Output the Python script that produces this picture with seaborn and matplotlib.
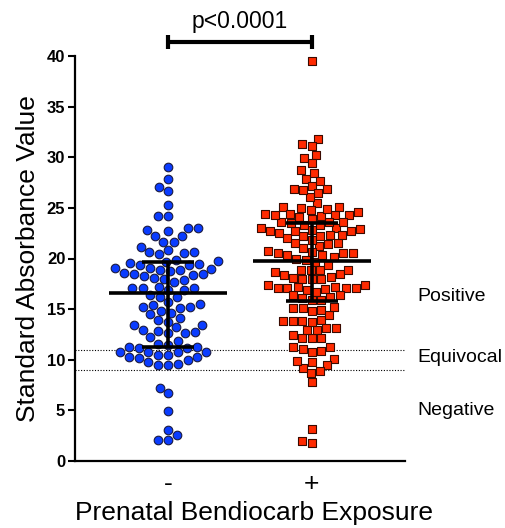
import matplotlib
matplotlib.use("Agg")
import matplotlib.pyplot as plt
import numpy as np
import pandas as pd
import seaborn as sns

categories = ["-", "+"]
neg_values = [19.75, 11.3,
              19.7, 19.1, 18.5, 17.1, 15.7, 15.1, 13.4, 11.2, 10.5, 10.0,
              23.0, 20.6, 18.9, 18.3, 17.7, 16.9, 14.8, 14.1, 12.7, 10.5, 9.5,
              24.2, 22.7, 21.6, 20.6, 19.4, 18.6, 17.9, 16.9, 16.2, 15.2, 13.9, 13.2, 12.6, 10.8, 9.5,
              29.0, 27.85, 27.1, 26.7, 25.3, 6.7, 7.2, 4.9, 3.1, 2.6, 2.1, 2.1,
              24.2, 22.8, 22.2, 21.6, 20.5, 19.5, 18.9, 18.1, 17.2, 16.4, 15.5, 14.6, 13.4, 12.6, 11.9, 11.2, 10.8, 10.3, 9.6,
              23.0, 22.2, 21.1, 20.4, 19.6, 19.1, 18.5, 18.0, 17.1, 16.2, 15.4, 14.5, 13.7, 12.8, 12.2, 11.5, 10.8, 10.3, 9.8,
              20.8, 19.4, 19.0, 18.4, 17.1, 15.2, 12.9, 11.6, 10.8, 10.2,
              19.9, 18.8, 11.3]
pos_values = [39.5, 31.8, 31.3, 31.1, 30.2, 29.9, 29.4, 28.7,
              27.9, 27.2, 26.5, 25.5, 24.2, 22.9, 21.2, 20.5, 19.7, 18.9, 18.0, 17.4, 16.9, 14.9, 13.9, 13.1, 12.1, 10.8, 10.1, 9.5, 8.7,
              26.9, 26.1, 25.1, 24.1, 23.0, 21.5, 20.7, 20.0, 18.4, 17.1, 15.1, 14.4, 13.8, 12.9, 12.1, 10.9, 9.8, 9.2, 7.8, 3.2,
              1.75, 2.0,
              28.4, 27.7, 26.8, 25.1, 24.4, 22.7, 21.8, 21.0, 20.3, 18.7, 18.0, 17.1, 16.4, 14.8, 13.8, 12.9, 12.1, 11.1, 9.9, 8.9,
              26.9, 24.9, 24.3, 23.3, 22.3, 21.4, 20.3, 18.9, 18.2, 17.4, 16.7, 15.1, 13.7, 11.3,
              24.4, 23.6, 22.7, 22.2, 20.6, 20.1, 18.9, 18.0, 17.2, 15.9,
              24.3, 23.6, 22.8, 22.2, 17.1, 16.2,
              25.0, 24.3, 23.6, 23.0, 22.3, 21.5, 20.5, 19.9, 19.4, 18.5, 17.0, 15.2, 13.8, 13.1, 12.4, 11.3,
              24.6, 23.9, 23.3, 22.7, 22.0, 20.5, 18.9, 18.1, 17.1, 16.4, 15.9,
              24.8, 23.5, 22.5, 17.2, 16.1]
medians = [16.55, 19.75]
q1 = [11.3, 15.8]
q3 = [19.7, 23.5]
cutoffs = [11.0, 9.0]
zone_labels = ["Positive", "Equivocal", "Negative"]
zone_y = [16.2, 10.2, 5.0]
p_text = "p<0.0001"
yticks = [0, 5, 10, 15, 20, 25, 30, 35, 40]

sns.set_style("ticks", {"axes.edgecolor": "black", "text.color": "black",
                        "xtick.color": "black", "ytick.color": "black",
                        "axes.labelcolor": "black"})
plt.rcParams["font.family"] = ["Liberation Sans", "DejaVu Sans"]

fig = plt.figure(figsize=(5.06, 5.28), dpi=100)
ax = fig.add_axes([75 / 506, 67 / 528, 330 / 506, 405 / 528])

df_neg = pd.DataFrame({"group": categories[0], "value": neg_values})
df_pos = pd.DataFrame({"group": categories[1], "value": pos_values})

sns.swarmplot(data=df_neg, x="group", y="value", order=categories, ax=ax,
              color="#0a3cff", marker="o", size=6.2, linewidth=0.8,
              edgecolor="#1a1a40", zorder=2)
sns.swarmplot(data=df_pos, x="group", y="value", order=categories, ax=ax,
              color="#ff2a00", marker="s", size=5.8, linewidth=0.8,
              edgecolor="#3a0a00", zorder=2)

for i in range(len(categories)):
    ax.hlines(medians[i], i - 0.41, i + 0.41, color="black", lw=2.6, zorder=4)
    ax.vlines(i, q1[i], q3[i], color="black", lw=2.6, zorder=4)
    ax.hlines([q1[i], q3[i]], i - 0.18, i + 0.18, color="black", lw=2.6, zorder=4)

for c in cutoffs:
    ax.axhline(c, color="black", lw=0.8, ls=(0, (1, 1.5)), zorder=1)

ax.set_xlim(-0.65, 1.65)
ax.set_ylim(0, 40)
ax.set_yticks(yticks)
ax.set_yticklabels([str(t) for t in yticks], fontweight="bold", fontsize=12)
ax.tick_params(axis="y", length=5, width=1.5, pad=2, colors="black")
ax.tick_params(axis="x", length=0, labelsize=19, pad=8, colors="black")
for s in ["left", "bottom"]:
    ax.spines[s].set_linewidth(1.6)
    ax.spines[s].set_color("black")
sns.despine(ax=ax)

ax.set_xlabel("Prenatal Bendiocarb Exposure", fontsize=19, color="black")
ax.xaxis.set_label_coords(0.542, -0.098)
ax.set_ylabel("Standard Absorbance Value", fontsize=19, labelpad=5, color="black")

for lab, yv in zip(zone_labels, zone_y):
    ax.text(1.735, yv, lab, fontsize=14, ha="left", va="center", clip_on=False, color="black")

ax.plot([0, 1], [41.4, 41.4], color="black", lw=3, clip_on=False, solid_capstyle="butt")
ax.plot([0, 0], [40.7, 42.1], color="black", lw=3, clip_on=False, solid_capstyle="butt")
ax.plot([1, 1], [40.7, 42.1], color="black", lw=3, clip_on=False, solid_capstyle="butt")
ax.text(0.5, 42.3, p_text, fontsize=16.5, ha="center", va="bottom", clip_on=False, color="black")

fig.savefig("out.png", dpi=100)
